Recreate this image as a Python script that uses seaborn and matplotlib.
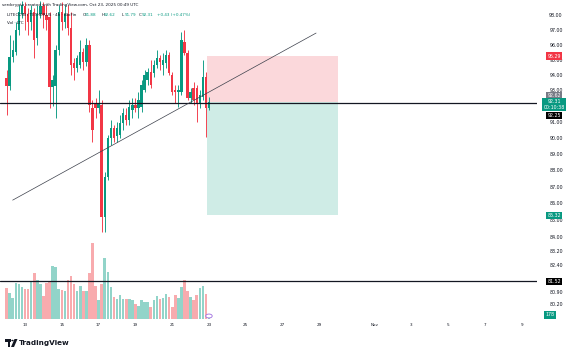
import numpy as np
import pandas as pd
import matplotlib
matplotlib.use("Agg")
import matplotlib.pyplot as plt
import matplotlib.transforms as mtransforms
from matplotlib.patches import Rectangle, Polygon, Circle
from matplotlib.ticker import NullLocator
import seaborn as sns

# ---------------- data (LTC/USDT 4h candles, Oct 12 - Oct 23) ----------------
start_day = 12.0          # Oct 12 00:00 UTC, day-of-October units
step_day = 4 / 24         # 4h candles
opens = [93.83, 93.31, 95.21, 95.54, 97.00, 98.08, 98.63, 98.08, 97.54, 98.22,
         96.47, 98.08, 98.63, 98.01, 97.88, 93.25, 93.31, 95.67, 98.22, 97.54,
         98.08, 97.14, 94.81, 94.48, 94.68, 95.54, 94.88, 96.00, 91.91, 92.22,
         91.91, 92.10, 85.24, 87.62, 90.02, 90.64, 90.14, 90.20, 90.96, 91.46,
         91.15, 91.78, 92.10, 91.91, 91.97, 93.06, 93.70, 94.22, 94.16, 94.68,
         95.14, 94.68, 94.81, 95.34, 94.03, 93.06, 92.93, 92.93, 96.20, 95.47,
         92.54, 93.19, 93.19, 92.22, 92.61, 93.90, 91.88]
highs = [94.35, 96.67, 96.33, 97.54, 98.69, 98.97, 98.90, 98.49, 98.69, 98.49,
         98.69, 98.97, 98.90, 98.69, 98.22, 94.03, 96.00, 98.69, 98.90, 98.69,
         98.69, 98.22, 95.14, 95.34, 96.33, 95.80, 96.47, 96.33, 92.42, 92.54,
         93.06, 92.42, 87.92, 90.20, 91.15, 90.83, 91.02, 91.46, 91.91, 91.91,
         92.42, 92.54, 92.54, 92.93, 93.70, 94.35, 94.48, 95.01, 95.01, 95.67,
         95.34, 95.47, 95.67, 95.54, 94.22, 93.38, 93.38, 96.87, 97.00, 95.67,
         93.19, 93.57, 93.38, 93.06, 95.01, 94.22, 92.62]
lows = [91.46, 93.06, 94.88, 95.34, 96.67, 97.81, 97.00, 96.67, 97.00, 95.14,
        96.00, 97.81, 97.14, 97.00, 91.91, 92.03, 91.27, 95.34, 97.00, 97.14,
        96.67, 94.03, 93.70, 94.22, 94.48, 94.35, 94.61, 91.65, 89.77, 91.27,
        91.59, 84.36, 84.36, 87.44, 89.58, 89.77, 89.77, 90.02, 90.52, 90.83,
        90.83, 91.27, 91.65, 91.27, 91.65, 92.93, 93.38, 93.19, 93.90, 94.48,
        94.35, 94.03, 94.48, 94.03, 92.74, 92.22, 91.97, 92.74, 95.34, 92.42,
        92.22, 92.10, 91.02, 91.91, 92.42, 90.08, 91.79]
closes = [93.31, 95.21, 95.67, 97.00, 98.22, 98.69, 98.08, 97.54, 98.35, 96.33,
          98.08, 98.63, 98.01, 97.68, 93.25, 93.70, 95.67, 98.22, 97.54, 98.08,
          97.14, 94.68, 94.48, 95.14, 95.54, 94.88, 96.00, 92.10, 90.52, 91.91,
          92.22, 85.24, 87.62, 90.02, 90.64, 90.02, 90.64, 90.96, 91.59, 91.15,
          91.97, 92.10, 91.91, 92.42, 93.38, 94.03, 94.22, 93.38, 94.68, 95.14,
          94.88, 95.01, 95.34, 94.16, 92.93, 92.93, 93.06, 96.33, 95.47, 92.54,
          92.93, 92.42, 92.22, 92.74, 93.90, 91.88, 92.31]
volumes = [1880, 1580, 1280, 2180, 2080, 1920, 1780, 1820, 2280, 2740,
           2320, 2120, 1380, 2180, 2280, 3180, 3120, 1780, 1720, 1680,
           2320, 2580, 2080, 1680, 1980, 1680, 1680, 2740, 4580, 1980,
           1120, 2120, 3640, 2820, 1920, 1320, 1180, 1440, 1180, 1180,
           1180, 1140, 880, 780, 1140, 1040, 1020, 720, 1120, 1380,
           1180, 1240, 1520, 1320, 720, 1440, 1240, 1940, 2320, 1680,
           1320, 1120, 1440, 1840, 1960, 1480, 178]

hline_levels = [92.25, 81.52]
trend_days = [12.33, 28.82]
trend_prices = [86.23, 96.80]
pos_entry, pos_stop, pos_target = 92.31, 95.29, 85.32
pos_start_day, pos_end_day = 22.91, 30.03

tick_days = [13, 15, 17, 19, 21, 23, 25, 27, 29, 32, 34, 36, 38, 40]
tick_labels = ["13", "15", "17", "19", "21", "23", "25", "27", "29", "Nov", "3", "5", "7", "9"]
price_labels = [98.0, 97.0, 96.0, 95.0, 94.0, 93.0, 91.0, 90.0, 89.0, 88.0, 87.0,
                86.0, 85.0, 84.0, 83.20, 82.40, 80.90, 80.20]

# ---------------- style ----------------
sns.set_style("white")
plt.rcParams["font.family"] = ["DejaVu Sans"]

UP, DOWN = "#089981", "#F23645"
VOL_UP, VOL_DOWN = "#92D4C9", "#F8ABAE"
TXT = "#131722"
FS = 3.0
FS_R = 3.4

W, H = 575, 352
fig = plt.figure(figsize=(W / 100, H / 100), dpi=100)
fig.patch.set_facecolor("white")

def fx(px):
    return px / W

def fy(py):
    return 1 - py / H

plot_right, plot_bottom = 537, 319
ax = fig.add_axes([0, fy(plot_bottom), fx(plot_right), plot_bottom / H])
vax = ax.twinx()
ax.set_zorder(2)
vax.set_zorder(1)
ax.patch.set_visible(False)

t = np.array([start_day + i * step_day for i in range(len(opens))])
o = np.array(opens); c = np.array(closes); h = np.array(highs); l = np.array(lows)
up = c >= o
cols = np.where(up, UP, DOWN)

# volume via seaborn
df_vol = pd.DataFrame({"t": t, "vol": volumes, "dir": np.where(up, "up", "down")})
sns.barplot(data=df_vol, x="t", y="vol", hue="dir", palette={"up": VOL_UP, "down": VOL_DOWN},
            native_scale=True, dodge=False, width=0.85, errorbar=None, legend=False,
            saturation=1, linewidth=0, ax=vax)
vax.set_ylim(0, 60 * plot_bottom)
vax.set_ylabel("")
vax.set_xlabel("")
vax.set_yticks([])
for s in vax.spines.values():
    s.set_visible(False)

# candles
ax.set_yscale("log")
ax.vlines(t, l, h, colors=cols, lw=0.65, zorder=3)
body_bot = np.minimum(o, c)
body_h = np.maximum(np.abs(c - o), 0.03)
ax.bar(t, body_h, bottom=body_bot, width=0.13, color=cols, linewidth=0, zorder=4)

# position tool
ax.add_patch(Rectangle((pos_start_day, pos_entry), pos_end_day - pos_start_day, pos_stop - pos_entry,
                       facecolor="#FBD8DB", edgecolor="none", zorder=1))
ax.add_patch(Rectangle((pos_start_day, pos_target), pos_end_day - pos_start_day, pos_entry - pos_target,
                       facecolor="#CFECE6", edgecolor="none", zorder=1))

# lines
for lv in hline_levels:
    ax.axhline(lv, color=TXT, lw=0.9, zorder=5)
ax.plot(trend_days, trend_prices, color="#3b3f4a", lw=0.5, zorder=5)

ax.set_xlim(11.641, 40.826)
ax.set_ylim(79.42, 99.04)
ax.yaxis.set_major_locator(NullLocator())
ax.yaxis.set_minor_locator(NullLocator())
ax.set_xticks(tick_days)
ax.set_xticklabels(tick_labels, fontsize=FS, color=TXT)
ax.tick_params(axis="x", length=0, pad=3.0)
ax.set_ylabel("")
for s in ax.spines.values():
    s.set_visible(False)

# price scale labels
ytr = mtransforms.blended_transform_factory(ax.transAxes, ax.transData)
lab_x = 556 / plot_right
for p in price_labels:
    ax.text(lab_x, p, f"{p:.2f}", transform=ytr, ha="center", va="center",
            fontsize=FS_R, color=TXT, clip_on=False, zorder=6)

def tag(px_y, text, fc, tc="white", x=554):
    fig.text(fx(x), fy(px_y), text, ha="center", va="center", fontsize=FS_R, color=tc,
             bbox=dict(boxstyle="square,pad=0.3", fc=fc, ec="none"), zorder=10)

tag(56, f"{pos_stop:.2f}", DOWN)
tag(95.5, "92.62", "#787B86")
tag(104.5, f"{closes[-1]:.2f}\n00:10:38", UP)
tag(115.5, f"{hline_levels[0]:.2f}", "#000000")
tag(215.5, f"{pos_target:.2f}", UP)
tag(281.5, f"{hline_levels[1]:.2f}", "#000000")
tag(315, f"{volumes[-1]}", UP, x=550)

# event marker near last bar
fig.patches.append(Circle((fx(209), fy(316)), radius=3.2 / W, transform=fig.transFigure,
                          facecolor="white", edgecolor="#9C6ADE", lw=0.6, zorder=10))

# header
fig.text(fx(2), fy(5), "serdcrypto created with TradingView.com, Oct 23, 2025 00:49 UTC",
         fontsize=FS, color=TXT, va="center", ha="left")
fig.text(fx(7), fy(15.5), "LITECOIN / TETHERUS · 4h · BloFin", fontsize=FS, color=TXT,
         va="center", ha="left", zorder=10)
hdr = [("O", f"{opens[-1]:.2f}", 82.5), ("H", f"{highs[-1]:.2f}", 101.5),
       ("L", f"{lows[-1]:.2f}", 122), ("C", f"{closes[-1]:.2f}", 139)]
for k, v, xp in hdr:
    fig.text(fx(xp), fy(15.5), k, fontsize=FS, color=TXT, va="center", ha="left", zorder=10)
    fig.text(fx(xp + 2.4), fy(15.5), v, fontsize=FS, color=UP, va="center", ha="left", zorder=10)
chg = closes[-1] - opens[-1]
fig.text(fx(157), fy(15.5), f"+{chg:.2f} (+{chg / opens[-1] * 100:.2f}%)", fontsize=FS,
         color=UP, va="center", ha="left", zorder=10)
fig.text(fx(7), fy(22.5), "Vol · LTC", fontsize=FS, color=TXT, va="center", ha="left", zorder=10)

# TradingView logo
lx, ly = 5, 340
fig.patches.append(Rectangle((fx(lx), fy(ly + 1.5)), 5.5 / W, 2.2 / H, transform=fig.transFigure,
                             facecolor=TXT, edgecolor="none"))
fig.patches.append(Rectangle((fx(lx + 2.6), fy(ly + 7)), 2.4 / W, 5.5 / H, transform=fig.transFigure,
                             facecolor=TXT, edgecolor="none"))
fig.patches.append(Circle((fx(lx + 7.5), fy(ly + 0.5)), radius=1.2 / W, transform=fig.transFigure,
                          facecolor=TXT, edgecolor="none"))
fig.patches.append(Polygon([(fx(lx + 9.5), fy(ly - 1)), (fx(lx + 12.5), fy(ly - 1)),
                            (fx(lx + 9), fy(ly + 7)), (fx(lx + 6), fy(ly + 7))],
                           closed=True, transform=fig.transFigure, facecolor=TXT, edgecolor="none"))
fig.text(fx(19), fy(ly + 3), "TradingView", fontsize=5.2, color=TXT, fontweight="bold",
         va="center", ha="left")

fig.savefig("out.png", dpi=100, facecolor="white")
